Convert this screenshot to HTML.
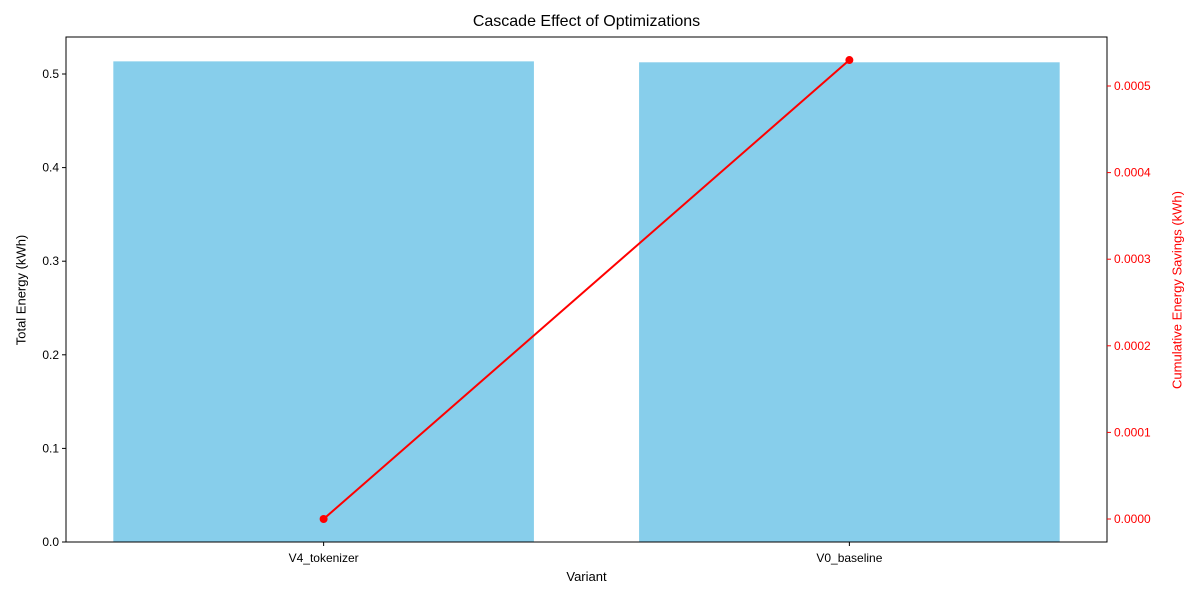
<!DOCTYPE html>
<html><head><meta charset="utf-8"><style>
body{margin:0;background:#fff;font-family:"Liberation Sans","DejaVu Sans",sans-serif}
</style></head><body>
<svg id="chart" width="1200" height="600" xmlns="http://www.w3.org/2000/svg" font-family="'Liberation Sans','DejaVu Sans',sans-serif">
<rect width="1200" height="600" fill="#fff"/>
<g id="bars"></g><g id="line"></g><g id="axes"></g>
</svg>
<script>
const categories=["V4_tokenizer","V0_baseline"];
const energyValues=[0.5135,0.5125];
const savingsValues=[0,0.00053];
const leftTicks=[0,0.1,0.2,0.3,0.4,0.5];
const leftTickLabels=["0.0","0.1","0.2","0.3","0.4","0.5"];
const rightTicks=[0,0.0001,0.0002,0.0003,0.0004,0.0005];
const rightTickLabels=["0.0000","0.0001","0.0002","0.0003","0.0004","0.0005"];

const L=66,R=1107,T=37,B=542,NS="http://www.w3.org/2000/svg";
const xMin=-0.49,xMax=1.49;
const yL=v=>B-(v/0.5)*(B-74);
const yR=v=>519-(v/0.0005)*(519-86);
const xS=i=>L+(i-xMin)/(xMax-xMin)*(R-L);
const bw=0.8*(R-L)/(xMax-xMin);
function mk(tag,attrs,parent,text){const e=document.createElementNS(NS,tag);for(const k in attrs)e.setAttribute(k,attrs[k]);if(text!==undefined)e.textContent=text;parent.appendChild(e);return e;}
const gb=document.getElementById('bars'),gl=document.getElementById('line'),ga=document.getElementById('axes');
energyValues.forEach((v,i)=>{
 const r=mk('rect',{x:xS(i)-bw/2,y:yL(v),width:bw,height:B-yL(v),fill:'#87ceeb'},gb);
 
 
});
const pts=savingsValues.map((v,i)=>xS(i)+','+yR(v)).join(' ');
const pl=mk('polyline',{points:pts,fill:'none',stroke:'#ff0000','stroke-width':2},gl);


savingsValues.forEach((v,i)=>{
 const c=mk('circle',{cx:xS(i),cy:yR(v),r:4,fill:'#ff0000'},gl);
 
 
});
const fr=mk('rect',{x:L,y:T,width:R-L,height:B-T,fill:'none',stroke:'#000','stroke-width':1},ga);


leftTicks.forEach((v,i)=>{
 const y=yL(v);
 mk('line',{x1:L-4,x2:L,y1:y,y2:y,stroke:'#000'},ga);
 const t=mk('text',{x:L-7,y:y+4,'text-anchor':'end','font-size':12},ga,leftTickLabels[i]);
 
 
});
rightTicks.forEach((v,i)=>{
 const y=yR(v);
 mk('line',{x1:R,x2:R+4,y1:y,y2:y,stroke:'#ff0000'},ga);
 const t=mk('text',{x:R+7,y:y+4,'font-size':12,fill:'#ff0000'},ga,rightTickLabels[i]);
 
 
});
categories.forEach((c,i)=>{
 const x=xS(i);
 mk('line',{x1:x,x2:x,y1:B,y2:B+4,stroke:'#000'},ga);
 const t=mk('text',{x:x,y:B+20,'text-anchor':'middle','font-size':12},ga,c);
 
 
});
</script>
<svg width="0" height="0" style="position:absolute"></svg>
<div style="position:absolute;left:0;top:0;width:1200px;height:600px;pointer-events:none">
<div style="position:absolute;left:0;width:1173px;top:13px;text-align:center;font-size:16px">Cascade Effect of Optimizations</div>
<div style="position:absolute;left:66px;width:1041px;top:569px;text-align:center;font-size:13px">Variant</div>
<div style="position:absolute;left:21px;top:290px;transform:translate(-50%,-50%) rotate(-90deg);white-space:nowrap;font-size:13px">Total Energy (kWh)</div>
<div style="position:absolute;left:1177px;top:290px;transform:translate(-50%,-50%) rotate(-90deg);white-space:nowrap;font-size:13px;color:#ff0000">Cumulative Energy Savings (kWh)</div>
</div>
</body></html>
